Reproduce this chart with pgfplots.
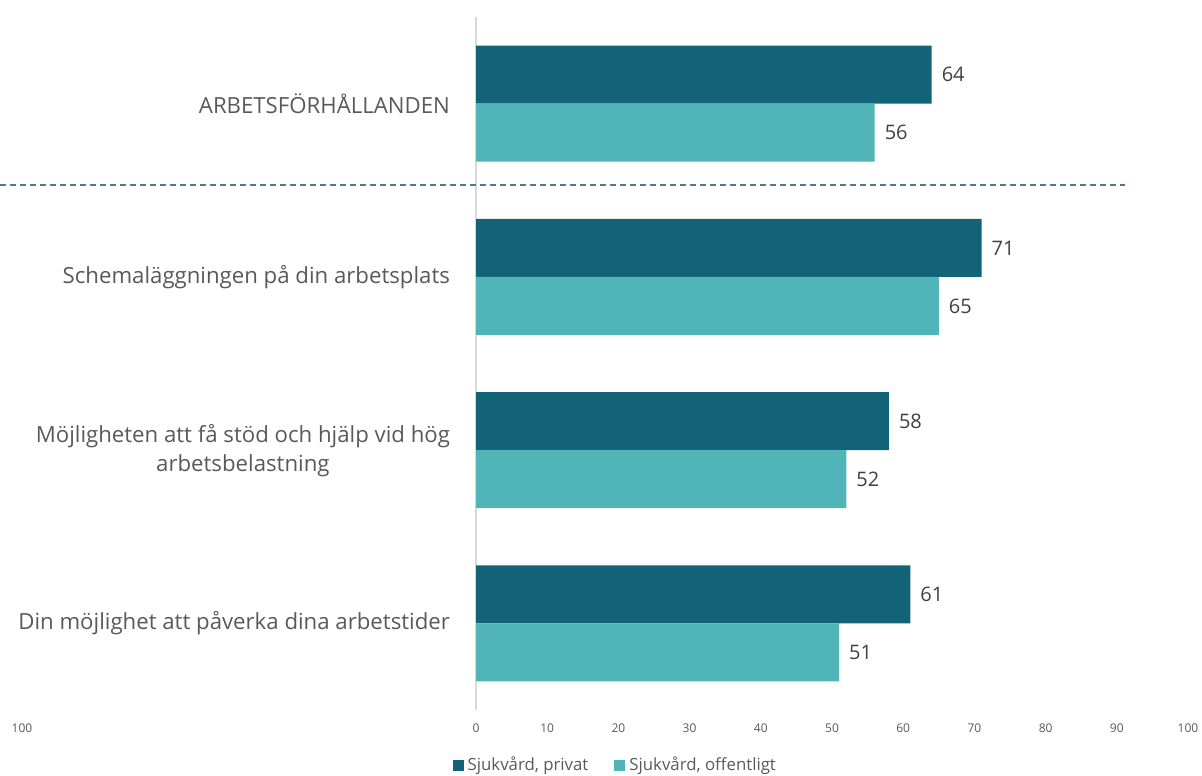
\documentclass[border=0pt]{standalone}
\usepackage{fontspec}
\setmainfont{Open Sans}
\usepackage{pgfplots}
\usepackage{pgfplotstable}
\pgfplotsset{compat=1.18}

\definecolor{privat}{RGB}{18,99,120}
\definecolor{offentligt}{RGB}{81,180,185}
\definecolor{labelgray}{RGB}{89,89,89}
\definecolor{valuegray}{RGB}{64,64,64}
\definecolor{dashblue}{RGB}{74,122,150}

% pos: 3 = top row
\pgfplotstableread{
pos privat offentligt
3 64 56
2 71 65
1 58 52
0 61 51
}\data

\begin{document}
\begin{tikzpicture}
\useasboundingbox (0pt,0pt) rectangle (601pt,387.5pt);
\begin{axis}[
    at={(238pt,32.5pt)}, anchor=south west,
    scale only axis,
    width=356pt, height=346.5pt,
    /pgf/number format/assume math mode=true,
    xbar=0pt, bar width=29pt,
    xmin=0, xmax=100, ymin=-0.5, ymax=3.5,
    xtick={0,10,...,100},
    ytick={0,1,2,3},
    yticklabels={Din möjlighet att påverka dina arbetstider,
        {Möjligheten att få stöd och hjälp vid hög\\arbetsbelastning},
        Schemaläggningen på din arbetsplats,
        ARBETSFÖRHÅLLANDEN},
    major tick length=0pt,
    axis line style={draw=none},
    clip=false,
    xticklabel style={font=\fontsize{6}{7}\selectfont, text=labelgray,
        anchor=center, yshift=-9pt},
    yticklabel style={font=\fontsize{11.1}{14.5}\selectfont, text=labelgray,
        align=center, xshift=-9.5pt},
    nodes near coords,
    every node near coord/.append style={font=\fontsize{10}{12}\selectfont,
        text=valuegray, xshift=1.5pt},
    legend style={at={(0.197,-0.0794)}, anchor=center, draw=none, fill=none,
        legend columns=2, font=\fontsize{8.4}{10}\selectfont, text=labelgray,
        /tikz/every even column/.append style={column sep=11pt}},
    legend image code/.code={\fill[#1] (0pt,-2.75pt) rectangle (5.5pt,2.75pt);},
]
\draw[gray!30, line width=0.6pt] (axis cs:0,-0.5) -- (axis cs:0,3.5);
\addplot[fill=privat, draw=none, bar shift=14.5pt] table[x=privat, y=pos] {\data};
\addplot[fill=offentligt, draw=none, bar shift=-14.5pt] table[x=offentligt, y=pos] {\data};
\legend{{Sjukvård, privat}, {Sjukvård, offentligt}}
\draw[dashblue, dashed, line width=0.6pt, dash pattern=on 3pt off 2pt]
    (axis cs:-66.85,2.53) -- (axis cs:91.2,2.53);
\node[font=\fontsize{6}{7}\selectfont, text=labelgray, anchor=center]
    at ([yshift=-9pt]axis cs:-63.76,-0.5) {100};
\end{axis}
\end{tikzpicture}
\end{document}
